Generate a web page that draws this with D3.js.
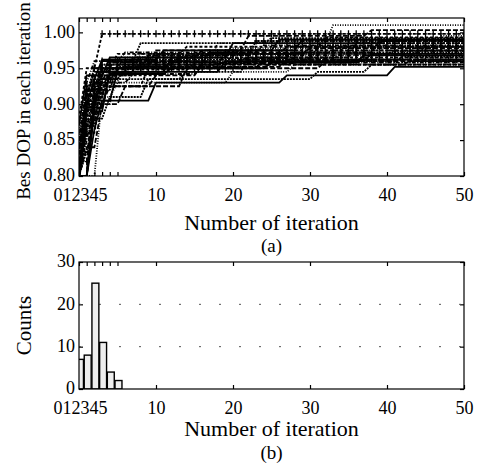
<!DOCTYPE html>
<html>
<head>
<meta charset="utf-8">
<script src="https://cdn.jsdelivr.net/npm/d3@7"></script>
<style>
body { margin:0; background:#fff; }
text { font-family: "Liberation Serif", "Times New Roman", serif; fill:#000; }
</style>
</head>
<body>
<div id="chart"></div>
<script>
// tick values
var iterTicks = [0,1,2,3,4,5,10,20,30,40,50];
var dopTicks = [0.80,0.85,0.90,0.95,1.00];
var countTicks = [0,10,20,30];

// histogram (b)
var histIter = [0,1,2,3,4,5];
var histCounts = [7,8,25,11,4,2];

// runs for (a): [iteration, new best DOP] change points
var runs = [
  [[0,0.80],[1,0.90],[2,0.95],[3,0.998]],
  [[0,0.82],[1,0.88],[3,0.93],[6,0.96],[18,0.985],[33,1.01]],
  [[0,0.80],[2,0.91],[4,0.95],[10,0.975],[22,0.995],[38,1.003]],
  [[0,0.81],[1,0.90],[3,0.96],[8,0.985],[25,0.992]],
  [[0,0.80],[2,0.89],[4,0.945],[12,0.965],[20,0.985],[40,0.99]],
  [[0,0.83],[1,0.92],[3,0.96],[15,0.97],[27,0.98]],
  [[0,0.80],[1,0.86],[3,0.925],[9,0.95],[19,0.975],[35,0.985]],
  [[0,0.80],[2,0.90],[5,0.955],[20,0.97],[45,0.98]],
  [[0,0.84],[1,0.91],[2,0.945],[7,0.965],[17,0.97],[30,0.978]],
  [[0,0.80],[1,0.87],[3,0.935],[14,0.945],[22,0.965],[28,0.972]],
  [[0,0.80],[2,0.905],[5,0.945],[19,0.96],[38,0.97]],
  [[0,0.81],[1,0.89],[3,0.95],[21,0.962]],
  [[0,0.80],[1,0.865],[2,0.91],[4,0.94],[11,0.955]],
  [[0,0.80],[3,0.91],[5,0.93],[20,0.945],[28,0.955]],
  [[0,0.82],[1,0.90],[4,0.925],[10,0.94],[16,0.955],[43,0.96]],
  [[0,0.80],[1,0.835],[2,0.88],[4,0.91],[9,0.935],[31,0.945],[38,0.955]],
  [[0,0.80],[2,0.865],[3,0.905],[10,0.93],[27,0.94],[41,0.952]],
  [[0,0.85],[1,0.93],[2,0.96],[6,0.972],[24,0.982]],
  [[0,0.80],[1,0.88],[2,0.93],[5,0.955],[13,0.965]],
  [[0,0.86],[1,0.925],[3,0.95],[9,0.96],[26,0.968],[44,0.975]],
  [[0,0.80],[1,0.84],[3,0.90],[6,0.925],[14,0.95],[32,0.96]],
  [[0,0.80],[2,0.90],[3,0.94],[8,0.958],[23,0.965],[36,0.985]],
  [[0,0.87],[1,0.94],[4,0.965],[16,0.975],[29,0.99]],
  [[0,0.80],[1,0.89],[2,0.935],[5,0.95],[12,0.96],[19,0.964],[34,0.97]],
  [[0,0.80],[1,0.88],[2,0.94],[4,0.96],[10,0.97],[21,0.975]],
  [[0,0.80],[1,0.91],[3,0.955],[13,0.968],[30,0.982]],
  [[0,0.82],[2,0.93],[4,0.958],[17,0.972],[39,0.988]],
  [[0,0.80],[1,0.87],[2,0.92],[5,0.952],[24,0.96],[42,0.966]],
  [[0,0.80],[1,0.90],[2,0.935],[3,0.962],[11,0.975],[26,0.99]],
  [[0,0.85],[1,0.92],[3,0.945],[8,0.97],[33,0.975]],
  [[0,0.80],[2,0.92],[4,0.948],[15,0.958],[36,0.962]],
  [[0,0.81],[1,0.905],[3,0.95],[6,0.965],[20,0.978],[47,0.995]],
  [[0,0.80],[1,0.875],[3,0.94],[7,0.953],[18,0.957],[29,0.962]],
  [[0,0.83],[1,0.915],[2,0.95],[9,0.968],[23,0.988]],
  [[0,0.80],[1,0.895],[4,0.942],[12,0.95],[25,0.958],[37,0.968]],
  [[0,0.80],[1,0.85],[2,0.90],[3,0.93],[7,0.942],[16,0.958]],
  [[0,0.88],[1,0.95],[5,0.97],[14,0.98],[32,0.993]],
  [[0,0.80],[1,0.86],[2,0.915],[4,0.955],[19,0.97],[41,0.974]],
  [[0,0.80],[2,0.895],[3,0.935],[6,0.952],[27,0.962]],
  [[0,0.84],[1,0.90],[3,0.955],[10,0.962],[31,0.98]]
];
var markerRuns = [0, 5, 11, 19, 26, 33, 37];
var dashes = ["3,2", "1,1.5", "5,2", "2,1", null, "4,1.5,1,1.5"];

var W = 479, H = 465, L = 79, R = 464;
var fs = 18;

var svg = d3.select("#chart").append("svg")
    .attr("width", W)
    .attr("height", H);

var x = d3.scaleLinear().domain([0,50]).range([L,R]);
var yA = d3.scaleLinear().domain([0.80,1.02]).range([176,18]);
var yB = d3.scaleLinear().domain([0,30]).range([389,262]);

function bestAt(run, i) {
  var v = run[0][1];
  run.forEach(function(p){ if (p[0] <= i) v = p[1]; });
  return v;
}

function frame(y, yt, fmt, clipId) {
  var top = y.range()[1], bot = y.range()[0];
  svg.append("clipPath").attr("id", clipId)
    .append("rect").attr("x", L).attr("y", top).attr("width", R-L).attr("height", bot-top);

  var gx = svg.append("g").attr("transform", "translate(0," + bot + ")")
    .call(d3.axisBottom(x).tickValues(iterTicks).tickFormat(d3.format("d"))
      .tickSizeInner(-4).tickSizeOuter(0).tickPadding(12));
  var cw = fs * 0.5;
  gx.selectAll("text")
    .style("font-size", fs + "px")
    .attr("x", function(d){ return d <= 5 ? (L + 1 - 2.5*cw + d*cw) - x(d) : 0; });

  svg.append("g").attr("transform", "translate(0," + top + ")")
    .call(d3.axisTop(x).tickValues(iterTicks).tickFormat("")
      .tickSizeInner(-4).tickSizeOuter(0));

  svg.append("g").attr("transform", "translate(" + L + ",0)")
    .call(d3.axisLeft(y).tickValues(yt).tickFormat(fmt)
      .tickSizeInner(-4).tickSizeOuter(0).tickPadding(4))
    .selectAll("text").style("font-size", fs + "px").attr("dy", "0.27em");

  svg.append("g").attr("transform", "translate(" + R + ",0)")
    .call(d3.axisRight(y).tickValues(yt).tickFormat("")
      .tickSizeInner(-4).tickSizeOuter(0));

  svg.selectAll(".domain").remove();
  svg.selectAll(".tick line").attr("stroke", "#000").attr("stroke-width", 1.2);
}

// ---- (a)
frame(yA, dopTicks, d3.format(".2f"), "clipA");

var line = d3.line()
    .x(function(d){ return x(d[0]); })
    .y(function(d){ return yA(d[1]); });

var gA = svg.append("g").attr("clip-path", "url(#clipA)");
runs.forEach(function(run, k){
  var pts = d3.range(0, 51).map(function(i){ return [i, bestAt(run, i)]; });
  gA.append("path")
    .attr("d", line(pts))
    .attr("fill", "none")
    .attr("stroke", "#000")
    .attr("stroke-width", 1.8)
    .attr("stroke-dasharray", dashes[k % dashes.length]);
  if (markerRuns.indexOf(k) >= 0) {
    gA.selectAll(null).data(pts.slice(1)).enter().append("path")
      .attr("transform", function(d){ return "translate(" + x(d[0]) + "," + yA(d[1]) + ")"; })
      .attr("d", "M-2,0H2M0,-3.5V3.5")
      .attr("stroke", "#000").attr("stroke-width", 1.3);
  }
});

svg.append("rect").attr("x", L).attr("y", 18).attr("width", R-L).attr("height", 176-18)
  .attr("fill", "none").attr("stroke", "#000").attr("stroke-width", 1.2);

svg.append("text").attr("x", (L+R)/2).attr("y", 230)
  .attr("text-anchor", "middle").style("font-size", "22px").text("Number of iteration");
svg.append("text").attr("x", (L+R)/2).attr("y", 252)
  .attr("text-anchor", "middle").style("font-size", "19px").text("(a)");
svg.append("text").attr("transform", "translate(30,101) rotate(-90)")
  .attr("text-anchor", "middle").style("font-size", "19px").text("Bes DOP in each iteration");

// ---- (b)
frame(yB, countTicks, d3.format("d"), "clipB");

svg.append("g").selectAll("line").data([10,20]).enter().append("line")
  .attr("x1", L).attr("x2", R)
  .attr("y1", function(d){ return yB(d); }).attr("y2", function(d){ return yB(d); })
  .attr("stroke", "#555").attr("stroke-width", 1)
  .attr("stroke-dasharray", "2,18");

var bw = (x(1) - x(0)) * 0.9;
svg.append("g").attr("clip-path", "url(#clipB)")
  .selectAll("rect").data(histIter).enter().append("rect")
  .attr("x", function(d){ return x(d) - bw/2 + 1; })
  .attr("y", function(d, i){ return yB(histCounts[i]); })
  .attr("width", bw)
  .attr("height", function(d, i){ return yB(0) - yB(histCounts[i]); })
  .attr("fill", "#eee")
  .attr("stroke", "#000")
  .attr("stroke-width", 1.4);

svg.append("rect").attr("x", L).attr("y", 262).attr("width", R-L).attr("height", 389-262)
  .attr("fill", "none").attr("stroke", "#000").attr("stroke-width", 1.2);

svg.append("text").attr("x", (L+R)/2).attr("y", 436)
  .attr("text-anchor", "middle").style("font-size", "22px").text("Number of iteration");
svg.append("text").attr("x", (L+R)/2).attr("y", 459)
  .attr("text-anchor", "middle").style("font-size", "19px").text("(b)");
svg.append("text").attr("transform", "translate(31," + (262+389)/2 + ") rotate(-90)")
  .attr("text-anchor", "middle").style("font-size", "21px").text("Counts");
</script>
</body>
</html>
